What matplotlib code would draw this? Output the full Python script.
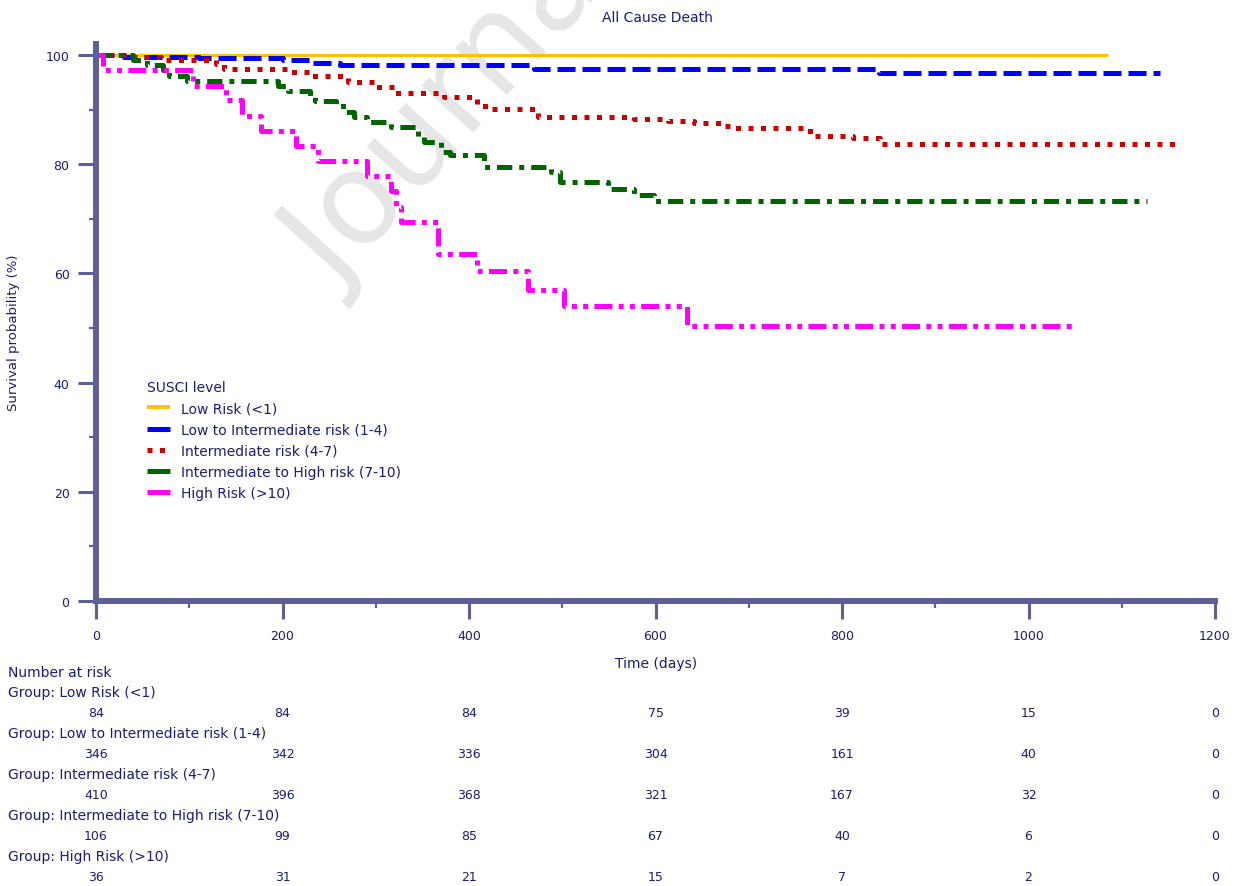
import matplotlib
matplotlib.use("Agg")
import matplotlib.pyplot as plt
import matplotlib.transforms as mtransforms
from matplotlib.lines import Line2D

plt.rcParams["font.family"] = ["DejaVu Sans"]
plt.rcParams["lines.scale_dashes"] = False

# ---- data ----
groups = [
    "Low Risk (<1)",
    "Low to Intermediate risk (1-4)",
    "Intermediate risk (4-7)",
    "Intermediate to High risk (7-10)",
    "High Risk (>10)",
]

low_days = [0]
low_surv = [100.0]
low_end = 1085

lowint_days = [0, 30, 110, 200, 232, 262, 470, 840]
lowint_surv = [100.0, 99.7, 99.4, 99.0, 98.5, 98.1, 97.4, 96.7]
lowint_end = 1141

inter_days = [0, 40, 70, 129, 137, 209, 230, 270, 300, 320, 373, 409, 423,
              474, 577, 613, 641, 670, 684, 766, 812, 841]
inter_surv = [100.0, 99.6, 99.1, 98.4, 97.4, 96.9, 96.2, 95.0, 94.1, 93.0,
              92.3, 90.7, 90.1, 88.6, 88.3, 87.9, 87.5, 87.0, 86.6, 85.2,
              84.8, 83.7]
inter_end = 1158

inthigh_days = [0, 40, 55, 72, 78, 98, 195, 206, 230, 235, 257, 268, 277,
                291, 316, 345, 352, 370, 380, 416, 488, 498, 549, 577, 598]
inthigh_surv = [100.0, 99.1, 98.1, 97.2, 96.2, 95.3, 94.3, 93.4, 92.5, 91.5,
                90.6, 89.6, 88.7, 87.7, 86.8, 85.0, 84.1, 82.2, 81.7, 79.5,
                78.5, 76.7, 75.4, 74.3, 73.2]
inthigh_end = 1127

high_days = [0, 8, 104, 139, 157, 177, 214, 238, 291, 316, 322, 327, 367,
             409, 463, 502, 634]
high_surv = [100.0, 97.2, 94.4, 91.7, 88.9, 86.1, 83.3, 80.6, 77.8, 75.0,
             72.2, 69.4, 63.6, 60.4, 57.0, 54.1, 50.3]
high_end = 1047

risk_times = [0, 200, 400, 600, 800, 1000, 1200]
risk_low = [84, 84, 84, 75, 39, 15, 0]
risk_lowint = [346, 342, 336, 304, 161, 40, 0]
risk_inter = [410, 396, 368, 321, 167, 32, 0]
risk_inthigh = [106, 99, 85, 67, 40, 6, 0]
risk_high = [36, 31, 21, 15, 7, 2, 0]

# ---- styles ----
NAVY = "#1c1c78"
AXIS = "#5f5f98"
W, H = 1243, 887

curves = [
    (low_days, low_surv, low_end, "#ffc000", 2.2, "-"),
    (lowint_days, lowint_surv, lowint_end, "#0000ff", 3.6, (0, (13, 5))),
    (inter_days, inter_surv, inter_end, "#cc0000", 3.6, (0, (3.6, 5.4))),
    (inthigh_days, inthigh_surv, inthigh_end, "#006400", 3.6,
     (0, (11, 5, 3.6, 5))),
    (high_days, high_surv, high_end, "#ff00ff", 3.6,
     (0, (13, 4.5, 3.6, 4.5, 3.6, 4.5))),
]
risk_rows = [risk_low, risk_lowint, risk_inter, risk_inthigh, risk_high]

fig = plt.figure(figsize=(W / 100, H / 100), dpi=100)
ax = fig.add_axes([96 / W, 1 - 602 / H, (1215 - 96) / W, 557 / H])

# watermark
ax.text(337 / W, 1 - 292 / H, "Journal", transform=fig.transFigure,
        fontsize=92, color="#e6e6e6", rotation=48, rotation_mode="anchor",
        ha="left", va="baseline", zorder=0.5, clip_on=False)

for days, surv, end, color, lw, ls in curves:
    x = list(days) + [end]
    y = list(surv) + [surv[-1]]
    ax.plot(x, y, drawstyle="steps-post", color=color, lw=lw, ls=ls,
            dash_capstyle="butt", solid_capstyle="butt", zorder=2,
            clip_on=False)

ax.set_xlim(0, 1200)
ax.set_ylim(0, 102)
ax.set_xticks(range(0, 1201, 200))
ax.set_xticks(range(100, 1200, 200), minor=True)
ax.set_yticks(range(0, 101, 20))
ax.set_yticks(range(10, 100, 20), minor=True)

for s in ["top", "right"]:
    ax.spines[s].set_visible(False)
for s in ["left", "bottom"]:
    ax.spines[s].set_color(AXIS)
    ax.spines[s].set_linewidth(4.3)
    ax.spines[s].set_capstyle("projecting")

ax.tick_params(which="major", direction="out", length=13, width=2.2,
               color=AXIS, labelcolor=NAVY, labelsize=9, pad=6)
ax.tick_params(which="minor", direction="out", length=5, width=1.6,
               color=AXIS)
ax.tick_params(axis="x", which="major", pad=7)

fig.text(657 / W, 1 - 18 / H, "All Cause Death", ha="center", va="center",
         fontsize=10, color=NAVY)
fig.text(14 / W, 1 - 333 / H, "Survival probability (%)", rotation=90,
         ha="center", va="center", fontsize=9.5, color=NAVY)
fig.text(656 / W, 1 - 664 / H, "Time (days)", ha="center", va="center",
         fontsize=10, color=NAVY)

# legend
handles = []
for days, surv, end, color, lw, ls in curves:
    hls = (0, (3.6, 5.4)) if color == "#cc0000" else "-"
    handles.append(Line2D([], [], color=color, lw=lw if lw > 3 else 2.8,
                          ls=hls, dash_capstyle="butt",
                          solid_capstyle="butt"))
leg = fig.legend(handles, groups, title="SUSCI level", loc="upper left",
                 bbox_to_anchor=(147 / W, 1 - 381 / H), frameon=False,
                 fontsize=10, title_fontsize=10, labelcolor=NAVY,
                 handlelength=1.65, handletextpad=0.8, labelspacing=0.52,
                 borderpad=0, borderaxespad=0, alignment="left")
leg.get_title().set_color(NAVY)

# number at risk table
fig.text(8 / W, 1 - 673 / H, "Number at risk", ha="left", va="center",
         fontsize=10, color=NAVY)
trans = mtransforms.blended_transform_factory(ax.transData, fig.transFigure)
row_top = 693
row_step = 40.9
for i, (name, row) in enumerate(zip(groups, risk_rows)):
    y_lab = row_top + i * row_step
    fig.text(8 / W, 1 - y_lab / H, "Group: " + name, ha="left", va="center",
             fontsize=10, color=NAVY)
    for t, n in zip(risk_times, row):
        ax.text(t, 1 - (y_lab + 20.5) / H, str(n), transform=trans,
                ha="center", va="center", fontsize=9, color=NAVY,
                clip_on=False)

fig.savefig("out.png", dpi=100, facecolor="white")
